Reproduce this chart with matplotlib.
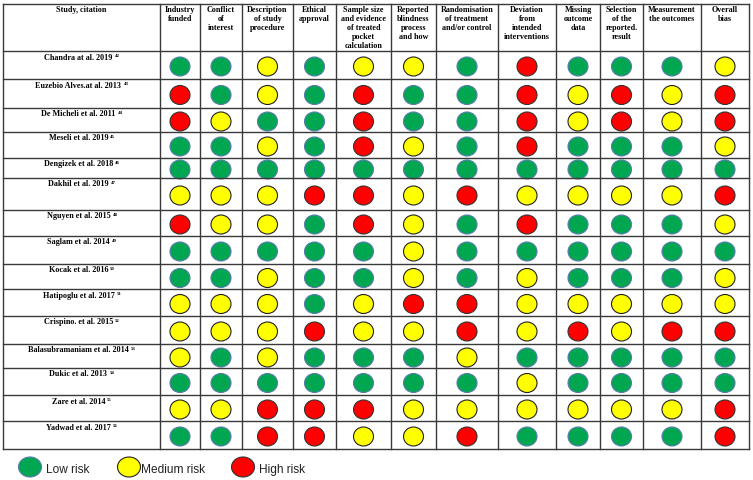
import matplotlib.pyplot as plt
from matplotlib.patches import Ellipse

# ---- data ----
studies = [
    "Chandra at al. 2019", "Euzebio Alves.at al. 2013", "De Micheli et al. 2011",
    "Meseli et al. 2019", "Dengizek et al. 2018", "Dakhil et al. 2019",
    "Nguyen et al. 2015", "Saglam et al. 2014", "Kocak et al. 2016",
    "Hatipoglu et al. 2017", "Crispino. et al. 2015", "Balasubramaniam et al. 2014",
    "Dukic et al. 2013", "Zare et al. 2014", "Yadwad et al. 2017",
]
refs = ["42", "43", "44", "45", "46", "47", "48", "49", "50",
        "51", "52", "53", "54", "55", "56"]
headers = [
    "Study, citation", "Industry\nfunded", "Conflict\nof\ninterest",
    "Description\nof study\nprocedure", "Ethical\napproval",
    "Sample size\nand evidence\nof treated\npocket\ncalculation",
    "Reported\nblindness\nprocess\nand how",
    "Randomisation\nof treatment\nand/or control",
    "Deviation\nfrom\nintended\ninterventions",
    "Missing\noutcome\ndata", "Selection\nof the\nreported.\nresult",
    "Measurement\nthe outcomes", "Overall\nbias",
]
# L = low, M = medium, H = high risk
ratings = [
    "LLMLMMLHLLLM",
    "HLMLHLLHMHMH",
    "HMLLHLLHMHMH",
    "LLMLHMLHLLLM",
    "LLLLLLLLLLLL",
    "MMMHHMHMMMMH",
    "HMMLHMLHLLLM",
    "LLLLLMLLLLLL",
    "LLMLLMLMLLLM",
    "MMMLMHHMMMMM",
    "MMMHMMHMHMHH",
    "MLMLLLMLLLLL",
    "LLLLLLLMLLLL",
    "MMHHHMMMMMMH",
    "LLHHMMHLLLLH",
]
legend_labels = {"L": "Low risk", "M": "Medium risk", "H": "High risk"}

fill = {"L": "#00A650", "M": "#FFFF00", "H": "#FF0000"}
edge = {"L": "#5A7BB0", "M": "#222222", "H": "#333333"}

# ---- layout (pixels) ----
col_edges = [3, 160, 200, 242, 293, 336, 391, 436, 498, 556, 600, 643, 701, 749]
row_edges = [4, 51, 79, 108, 132, 158, 178, 210, 236, 264, 289, 316, 344, 368, 395, 421, 449]

fig = plt.figure(figsize=(7.53, 4.80), dpi=100)
ax = fig.add_axes([0, 0, 1, 1])
ax.set_xlim(0, 753)
ax.set_ylim(480, 0)
ax.axis("off")

serif = "Liberation Serif"
line_kw = dict(color="#3a3a3a", lw=1.0)
for x in col_edges:
    ax.plot([x, x], [row_edges[0], row_edges[-1]], **line_kw)
for y in row_edges:
    ax.plot([col_edges[0], col_edges[-1]], [y, y], **line_kw)

# header
for j, h in enumerate(headers):
    cx = (col_edges[j] + col_edges[j + 1]) / 2
    ax.text(cx, row_edges[0] + 2.5, h, ha="center", va="top", family=serif,
            fontweight="bold", fontsize=5.9, linespacing=1.15)

# rows
for i, (name, ref, row) in enumerate(zip(studies, refs, ratings)):
    top, bot = row_edges[i + 1], row_edges[i + 2]
    cx = (col_edges[0] + col_edges[1]) / 2
    t = ax.text(cx - 3, top + 2.5, name, ha="center", va="top", family=serif,
                fontweight="bold", fontsize=5.9)
    ax.annotate(ref, xy=(1, 1), xycoords=t, xytext=(1.5, -0.5),
                textcoords="offset points", ha="left", va="top",
                family=serif, fontweight="bold", fontsize=3.5)
    cy = (top + bot) / 2 + 1.5
    for j, r in enumerate(row):
        x = (col_edges[j + 1] + col_edges[j + 2]) / 2
        ax.add_patch(Ellipse((x, cy), 20, 19, facecolor=fill[r],
                             edgecolor=edge[r], lw=0.8))

# legend
leg_x = [30, 129, 243]
for (k, lab), lx in zip(legend_labels.items(), leg_x):
    ax.add_patch(Ellipse((lx, 467), 23, 20, facecolor=fill[k],
                         edgecolor=edge[k], lw=0.8))
    ax.text(lx + 16 if k != "M" else lx + 12, 470, lab, ha="left", va="center",
            family="Liberation Sans", fontsize=8.6, color="#222222")

fig.savefig("out.png", dpi=100)
